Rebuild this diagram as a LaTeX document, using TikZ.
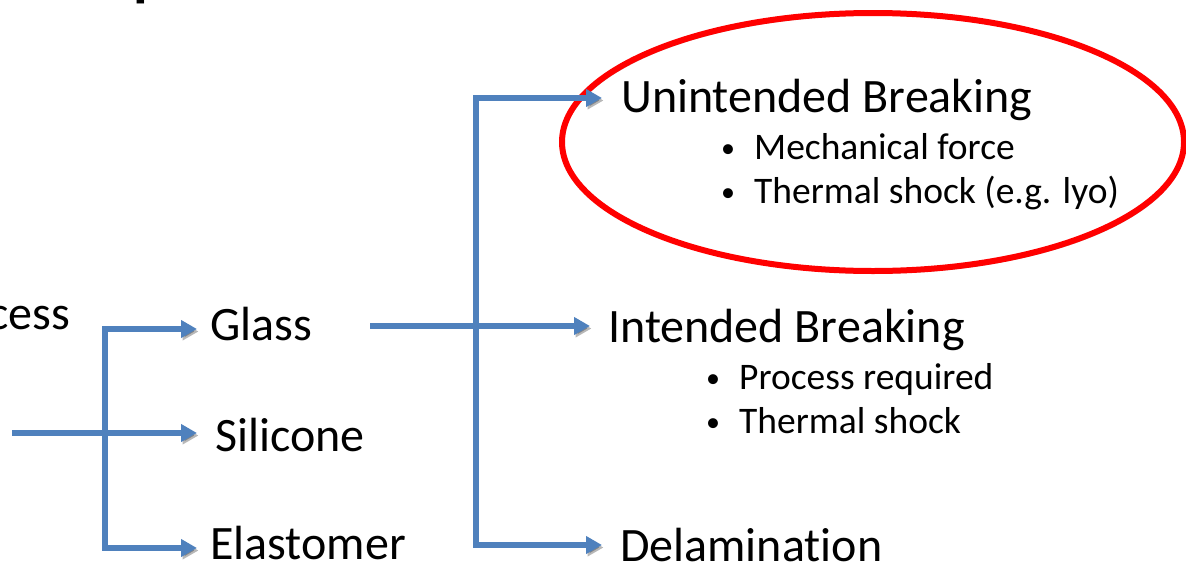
\documentclass[tikz,border=0pt]{standalone}
\usepackage{fontspec}
\setmainfont{Carlito}[Ligatures={NoCommon}]
\usetikzlibrary{arrows.meta}
\definecolor{lineblue}{HTML}{4F81BD}
\definecolor{ringred}{HTML}{FF0000}
\newcommand{\bul}{\makebox[33pt][l]{\raisebox{2pt}{\fontsize{28}{28}\selectfont•}}}
\begin{document}
\begin{tikzpicture}[x=1pt,y=-1pt,
  big/.style={font=\fontsize{48}{52}\selectfont, inner sep=0pt, anchor=base west},
  small/.style={font=\fontsize{37.5}{40}\selectfont, inner sep=0pt, anchor=base west},
  shade/.style={preaction={draw=black, opacity=0.28, transform canvas={xshift=1.5pt,yshift=-2.5pt}}},
  plain/.style={draw=lineblue, line width=5.5pt, shade},
  conn/.style={plain, -{Triangle[length=16pt,width=17pt]}},
  ring/.style={draw=ringred, line width=6pt, shade},
]
\useasboundingbox (0,0) rectangle (1186,565);
\clip (0,0) rectangle (1186,565);

% title fragment (cut off at the top)
\node[font=\fontsize{60}{64}\selectfont\bfseries, inner sep=0pt, anchor=base west] (title) at (133,-5.5) {p};

% red highlight ellipse
\draw[ring] (873,142) ellipse [x radius=311, y radius=129];

% texts
\node[big, anchor=base east] (process) at (70,329) {Process};
\node[big] (glass) at (210,340) {Glass};
\node[big] (silicone) at (215,451) {Silicone};
\node[big] (elastomer) at (210,559) {Elastomer};
\node[big] (unint) at (621,112) {Unintended Breaking};
\node[big] (intended) at (608,342) {Intended Breaking};
\node[big] (delam) at (620,561) {Delamination};
\node[small] (mech) at (721,159) {\bul Mechanical force};
\node[small] (therm1) at (721,203) {\bul Thermal shock (e.g. lyo)};
\node[small] (proc) at (706,389) {\bul Process required};
\node[small] (therm2) at (706,433) {\bul Thermal shock};

% connector points
\coordinate (pin) at (12,433);
\coordinate (lj) at (105,433);
\coordinate (tglass) at (197,329);
\coordinate (tsil) at (197,433);
\coordinate (telast) at (197,548);
\coordinate (gout) at (370,326);
\coordinate (rj) at (476,326);
\coordinate (tunint) at (602,98);
\coordinate (tint) at (590,326);
\coordinate (tdelam) at (602,545);

% left tree
\draw[plain] (pin) -- (lj);
\draw[conn] (lj) |- (tglass);
\draw[conn] (lj) -- (tsil);
\draw[conn] (lj) |- (telast);

% right tree
\draw[plain] (gout) -- (rj);
\draw[conn] (rj) |- (tunint);
\draw[conn] (rj) -- (tint);
\draw[conn] (rj) |- (tdelam);
\end{tikzpicture}
\end{document}
